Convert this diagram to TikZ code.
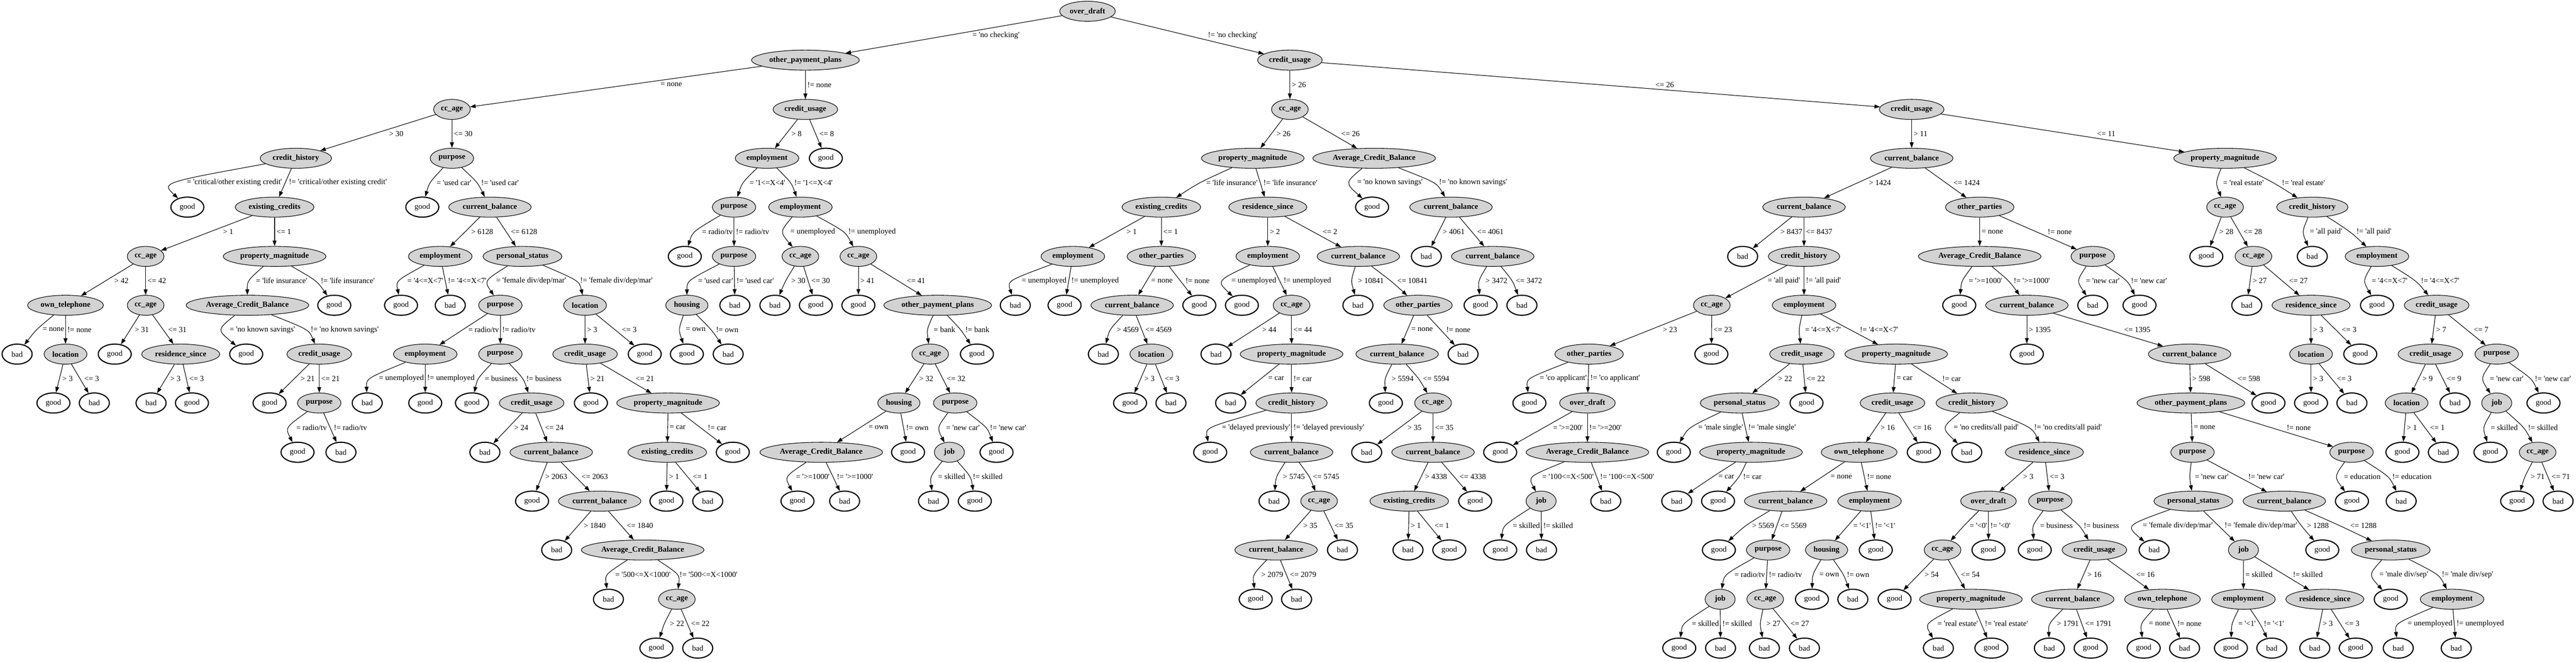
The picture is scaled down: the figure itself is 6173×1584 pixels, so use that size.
\documentclass[tikz,border=0pt]{standalone}
\usepackage{fontspec}
\setmainfont{Liberation Serif}[Ligatures=TeXOff]
\usetikzlibrary{shapes.geometric,arrows.meta}
\definecolor{nodegray}{HTML}{D3D3D3}
\newcommand{\lblfont}{\fontsize{14}{16}\selectfont}
\newlength{\lblw}
\newcommand{\branches}[6][-1]{%
\path (#2); \pgfgetlastxy{\pxa}{\pya}%
\path (#3); \pgfgetlastxy{\pxb}{\pyb}%
\path (#4); \pgfgetlastxy{\pxc}{\pyc}%
\pgfinterruptpicture\settowidth{\lblw}{\normalfont\lblfont #5}\global\lblw=\lblw\endpgfinterruptpicture
\pgfmathsetmacro{\bym}{(\pya+\pyb)/2}%
\pgfmathsetmacro{\bsl}{abs(\pxb-\pxa)/abs(\pyb-\pya)}%
\pgfmathsetmacro{\bsr}{abs(\pxc-\pxa)/abs(\pyc-\pya)}%
\pgfmathsetmacro{\bml}{(\pxa+\pxb)/2}%
\pgfmathsetmacro{\bmr}{(\pxa+\pxc)/2}%
\pgfmathsetmacro{\bxl}{\bml+min(7.5*\bsl,140)+2}%
\pgfmathsetmacro{\bdef}{max(\bxl-(\bmr-7.5*\bsr-\lblw-4),0)}%
\pgfmathsetmacro{\bfr}{#1<0 ? (\bsr>=0.5 ? 0.5 : 0) : #1}%
\pgfmathsetmacro{\bqr}{\bmr+\bfr*\bdef}%
\pgfmathsetmacro{\bmax}{\bqr-7.5*\bsr-\lblw-4}%
\pgfmathsetmacro{\bll}{min(\bxl,\bmax)}%
\pgfmathsetmacro{\blr}{\bqr+min(7.5*\bsr,140)+2}%
\pgfmathsetmacro{\bqx}{min(\bml,\bmax-8)}%
\pgfmathsetmacro{\bcx}{\bqx+((\bqx-\pxa)+(\bqx-\pxb))/6}%
\pgfmathsetmacro{\bcr}{\bqr+((\bqr-\pxa)+(\bqr-\pxc))/6}%
\pgfmathsetmacro{\bcy}{\bym+((\bym-\pya)+(\bym-\pyb))/6}%
\draw[arr] (#2) .. controls (\bcx pt,\bcy pt) .. (#3) node[lbl, at={(\bll pt,\bym pt)}] {#5};%
\draw[arr] (#2) .. controls (\bcr pt,\bcy pt) .. (#4) node[lbl, at={(\blr pt,\bym pt)}] {#6};%
}
\begin{document}
\begin{tikzpicture}[x=0.75pt, y=-0.75pt,
split/.style={ellipse, draw, line width=1pt, fill=nodegray, font=\lblfont\bfseries, inner xsep=3.5pt, inner ysep=0pt, minimum height=36pt, minimum width=54pt},
leaf/.style={ellipse, draw, line width=2pt, font=\lblfont, inner xsep=7pt, inner ysep=0pt, minimum height=36pt, minimum width=54pt},
arr/.style={line width=1pt, -{Triangle[length=10pt,width=7pt]}},
lbl/.style={anchor=west, inner sep=1pt, font=\lblfont}]
\useasboundingbox (0, 0) rectangle (6173, 1584);
\node[split] (n0) at(2606, 27) {over\_draft};
\node[split] (n1) at(1930, 144) {other\_payment\_plans};
\node[split] (n2) at(3091, 144) {credit\_usage};
\node[split] (n3) at(1083, 262) {cc\_age};
\node[split] (n4) at(1930, 262) {credit\_usage};
\node[split] (n5) at(709, 379) {credit\_history};
\node[split] (n6) at(1083, 379) {purpose};
\node[leaf] (n7) at(449, 496) {good};
\node[split] (n8) at(658, 496) {existing\_credits};
\node[split] (n9) at(349, 614) {cc\_age};
\node[split] (n10) at(658, 614) {property\_magnitude};
\node[split] (n11) at(157, 731) {own\_telephone};
\node[split] (n12) at(349, 731) {cc\_age};
\node[leaf] (n13) at(41, 848) {bad};
\node[split] (n14) at(157, 848) {location};
\node[leaf] (n15) at(128, 965) {good};
\node[leaf] (n16) at(226, 965) {bad};
\node[leaf] (n17) at(275, 848) {good};
\node[split] (n18) at(433, 848) {residence\_since};
\node[leaf] (n19) at(362, 965) {bad};
\node[leaf] (n20) at(460, 965) {good};
\node[split] (n21) at(593, 731) {Average\_Credit\_Balance};
\node[leaf] (n22) at(801, 731) {good};
\node[leaf] (n23) at(590, 848) {good};
\node[split] (n24) at(765, 848) {credit\_usage};
\node[leaf] (n25) at(646, 965) {good};
\node[split] (n26) at(765, 965) {purpose};
\node[leaf] (n27) at(713, 1083) {good};
\node[leaf] (n28) at(817, 1083) {bad};
\node[leaf] (n29) at(1012, 496) {good};
\node[split] (n30) at(1174, 496) {current\_balance};
\node[split] (n31) at(1055, 614) {employment};
\node[split] (n32) at(1252, 614) {personal\_status};
\node[leaf] (n33) at(961, 731) {good};
\node[leaf] (n34) at(1079, 731) {bad};
\node[split] (n35) at(1199, 731) {purpose};
\node[split] (n36) at(1402, 731) {location};
\node[split] (n37) at(1019, 848) {employment};
\node[split] (n38) at(1199, 848) {purpose};
\node[leaf] (n39) at(880, 965) {bad};
\node[leaf] (n40) at(1019, 965) {good};
\node[leaf] (n41) at(1131, 965) {good};
\node[split] (n42) at(1274, 965) {credit\_usage};
\node[leaf] (n43) at(1162, 1083) {bad};
\node[split] (n44) at(1321, 1083) {current\_balance};
\node[leaf] (n45) at(1275, 1200) {good};
\node[split] (n46) at(1437, 1200) {current\_balance};
\node[leaf] (n47) at(1334, 1317) {bad};
\node[split] (n48) at(1540, 1317) {Average\_Credit\_Balance};
\node[leaf] (n49) at(1458, 1435) {bad};
\node[split] (n50) at(1622, 1435) {cc\_age};
\node[leaf] (n51) at(1573, 1552) {good};
\node[leaf] (n52) at(1672, 1552) {bad};
\node[split] (n53) at(1402, 848) {credit\_usage};
\node[leaf] (n54) at(1545, 848) {good};
\node[leaf] (n55) at(1416, 965) {good};
\node[split] (n56) at(1601, 965) {property\_magnitude};
\node[split] (n57) at(1599, 1083) {existing\_credits};
\node[leaf] (n58) at(1756, 1083) {good};
\node[leaf] (n59) at(1597, 1200) {good};
\node[leaf] (n60) at(1696, 1200) {bad};
\node[split] (n61) at(1838, 379) {employment};
\node[leaf] (n62) at(1979, 379) {good};
\node[split] (n63) at(1759, 496) {purpose};
\node[split] (n64) at(1918, 496) {employment};
\node[leaf] (n65) at(1641, 614) {good};
\node[split] (n66) at(1759, 614) {purpose};
\node[split] (n67) at(1646, 731) {housing};
\node[leaf] (n68) at(1761, 731) {bad};
\node[leaf] (n69) at(1646, 848) {good};
\node[leaf] (n70) at(1745, 848) {bad};
\node[split] (n71) at(1918, 614) {cc\_age};
\node[split] (n72) at(2057, 614) {cc\_age};
\node[leaf] (n73) at(1857, 731) {bad};
\node[leaf] (n74) at(1955, 731) {good};
\node[leaf] (n75) at(2057, 731) {good};
\node[split] (n76) at(2247, 731) {other\_payment\_plans};
\node[split] (n77) at(2229, 848) {cc\_age};
\node[leaf] (n78) at(2341, 848) {good};
\node[split] (n79) at(2154, 965) {housing};
\node[split] (n80) at(2289, 965) {purpose};
\node[split] (n81) at(1968, 1083) {Average\_Credit\_Balance};
\node[leaf] (n82) at(2176, 1083) {good};
\node[leaf] (n83) at(1911, 1200) {good};
\node[leaf] (n84) at(2024, 1200) {bad};
\node[split] (n85) at(2275, 1083) {job};
\node[leaf] (n86) at(2388, 1083) {good};
\node[leaf] (n87) at(2237, 1200) {bad};
\node[leaf] (n88) at(2336, 1200) {good};
\node[split] (n89) at(3091, 262) {cc\_age};
\node[split] (n90) at(4581, 262) {credit\_usage};
\node[split] (n91) at(3002, 379) {property\_magnitude};
\node[split] (n92) at(3293, 379) {Average\_Credit\_Balance};
\node[split] (n93) at(2783, 496) {existing\_credits};
\node[split] (n94) at(3038, 496) {residence\_since};
\node[split] (n95) at(2571, 614) {employment};
\node[split] (n96) at(2783, 614) {other\_parties};
\node[leaf] (n97) at(2433, 731) {bad};
\node[leaf] (n98) at(2551, 731) {good};
\node[split] (n99) at(2713, 731) {current\_balance};
\node[leaf] (n100) at(2874, 731) {good};
\node[leaf] (n101) at(2644, 848) {bad};
\node[split] (n102) at(2759, 848) {location};
\node[leaf] (n103) at(2708, 965) {good};
\node[leaf] (n104) at(2806, 965) {bad};
\node[split] (n105) at(3038, 614) {employment};
\node[split] (n106) at(3255, 614) {current\_balance};
\node[leaf] (n107) at(2976, 731) {good};
\node[split] (n108) at(3095, 731) {cc\_age};
\node[leaf] (n109) at(2914, 848) {bad};
\node[split] (n110) at(3095, 848) {property\_magnitude};
\node[leaf] (n111) at(2949, 965) {bad};
\node[split] (n112) at(3095, 965) {credit\_history};
\node[leaf] (n113) at(2900, 1083) {good};
\node[split] (n114) at(3095, 1083) {current\_balance};
\node[leaf] (n115) at(3053, 1200) {bad};
\node[split] (n116) at(3161, 1200) {cc\_age};
\node[split] (n117) at(3058, 1317) {current\_balance};
\node[leaf] (n118) at(3217, 1317) {bad};
\node[leaf] (n119) at(3009, 1435) {good};
\node[leaf] (n120) at(3107, 1435) {bad};
\node[leaf] (n121) at(3254, 731) {bad};
\node[split] (n122) at(3398, 731) {other\_parties};
\node[split] (n123) at(3348, 848) {current\_balance};
\node[leaf] (n124) at(3506, 848) {bad};
\node[leaf] (n125) at(3321, 965) {good};
\node[split] (n126) at(3434, 965) {cc\_age};
\node[leaf] (n127) at(3275, 1083) {bad};
\node[split] (n128) at(3434, 1083) {current\_balance};
\node[split] (n129) at(3377, 1200) {existing\_credits};
\node[leaf] (n130) at(3535, 1200) {good};
\node[leaf] (n131) at(3374, 1317) {bad};
\node[leaf] (n132) at(3473, 1317) {good};
\node[leaf] (n133) at(3288, 496) {good};
\node[split] (n134) at(3477, 496) {current\_balance};
\node[leaf] (n135) at(3418, 614) {bad};
\node[split] (n136) at(3577, 614) {current\_balance};
\node[leaf] (n137) at(3548, 731) {good};
\node[leaf] (n138) at(3647, 731) {bad};
\node[split] (n139) at(4581, 379) {current\_balance};
\node[split] (n140) at(5332, 379) {property\_magnitude};
\node[split] (n141) at(4323, 496) {current\_balance};
\node[split] (n142) at(4744, 496) {other\_parties};
\node[leaf] (n143) at(4176, 614) {bad};
\node[split] (n144) at(4323, 614) {credit\_history};
\node[split] (n145) at(4102, 731) {cc\_age};
\node[split] (n146) at(4323, 731) {employment};
\node[split] (n147) at(3808, 848) {other\_parties};
\node[leaf] (n148) at(4101, 848) {good};
\node[leaf] (n149) at(3665, 965) {good};
\node[split] (n150) at(3804, 965) {over\_draft};
\node[leaf] (n151) at(3595, 1083) {good};
\node[split] (n152) at(3804, 1083) {Average\_Credit\_Balance};
\node[split] (n153) at(3693, 1200) {job};
\node[leaf] (n154) at(3848, 1200) {bad};
\node[leaf] (n155) at(3595, 1317) {good};
\node[leaf] (n156) at(3694, 1317) {bad};
\node[split] (n157) at(4318, 848) {credit\_usage};
\node[split] (n158) at(4544, 848) {property\_magnitude};
\node[split] (n159) at(4169, 965) {personal\_status};
\node[leaf] (n160) at(4329, 965) {good};
\node[leaf] (n161) at(4011, 1083) {good};
\node[split] (n162) at(4196, 1083) {property\_magnitude};
\node[leaf] (n163) at(4018, 1200) {bad};
\node[leaf] (n164) at(4117, 1200) {good};
\node[split] (n165) at(4535, 965) {credit\_usage};
\node[split] (n166) at(4725, 965) {credit\_history};
\node[split] (n167) at(4455, 1083) {own\_telephone};
\node[leaf] (n168) at(4610, 1083) {good};
\node[split] (n169) at(4279, 1200) {current\_balance};
\node[split] (n170) at(4480, 1200) {employment};
\node[leaf] (n171) at(4119, 1317) {good};
\node[split] (n172) at(4237, 1317) {purpose};
\node[split] (n173) at(4122, 1435) {job};
\node[split] (n174) at(4230, 1435) {cc\_age};
\node[leaf] (n175) at(4024, 1552) {good};
\node[leaf] (n176) at(4123, 1552) {bad};
\node[leaf] (n177) at(4228, 1552) {bad};
\node[leaf] (n178) at(4324, 1552) {bad};
\node[split] (n179) at(4377, 1317) {housing};
\node[leaf] (n180) at(4495, 1317) {good};
\node[leaf] (n181) at(4342, 1435) {good};
\node[leaf] (n182) at(4440, 1435) {bad};
\node[leaf] (n183) at(4713, 1083) {bad};
\node[split] (n184) at(4899, 1083) {residence\_since};
\node[split] (n185) at(4765, 1200) {over\_draft};
\node[split] (n186) at(4913, 1200) {purpose};
\node[split] (n187) at(4655, 1317) {cc\_age};
\node[leaf] (n188) at(4765, 1317) {good};
\node[leaf] (n189) at(4540, 1435) {good};
\node[split] (n190) at(4723, 1435) {property\_magnitude};
\node[leaf] (n191) at(4645, 1552) {bad};
\node[leaf] (n192) at(4772, 1552) {good};
\node[leaf] (n193) at(4876, 1317) {good};
\node[split] (n194) at(5019, 1317) {credit\_usage};
\node[split] (n195) at(4967, 1435) {current\_balance};
\node[split] (n196) at(5182, 1435) {own\_telephone};
\node[leaf] (n197) at(4911, 1552) {bad};
\node[leaf] (n198) at(5010, 1552) {good};
\node[leaf] (n199) at(5137, 1552) {good};
\node[leaf] (n200) at(5235, 1552) {bad};
\node[split] (n201) at(4744, 614) {Average\_Credit\_Balance};
\node[split] (n202) at(5015, 614) {purpose};
\node[leaf] (n203) at(4695, 731) {good};
\node[split] (n204) at(4857, 731) {current\_balance};
\node[leaf] (n205) at(4857, 848) {good};
\node[split] (n206) at(5247, 848) {current\_balance};
\node[split] (n207) at(5250, 965) {other\_payment\_plans};
\node[leaf] (n208) at(5436, 965) {good};
\node[split] (n209) at(5254, 1083) {purpose};
\node[split] (n210) at(5635, 1083) {purpose};
\node[split] (n211) at(5256, 1200) {personal\_status};
\node[split] (n212) at(5474, 1200) {current\_balance};
\node[leaf] (n213) at(5162, 1317) {bad};
\node[split] (n214) at(5376, 1317) {job};
\node[split] (n215) at(5376, 1435) {employment};
\node[split] (n216) at(5571, 1435) {residence\_since};
\node[leaf] (n217) at(5346, 1552) {good};
\node[leaf] (n218) at(5444, 1552) {bad};
\node[leaf] (n219) at(5547, 1552) {bad};
\node[leaf] (n220) at(5645, 1552) {good};
\node[leaf] (n221) at(5565, 1317) {good};
\node[split] (n222) at(5729, 1317) {personal\_status};
\node[leaf] (n223) at(5729, 1435) {good};
\node[split] (n224) at(5876, 1435) {employment};
\node[leaf] (n225) at(5747, 1552) {bad};
\node[leaf] (n226) at(5886, 1552) {bad};
\node[leaf] (n227) at(5636, 1200) {good};
\node[leaf] (n228) at(5754, 1200) {bad};
\node[leaf] (n229) at(5015, 731) {bad};
\node[leaf] (n230) at(5127, 731) {good};
\node[split] (n231) at(5332, 496) {cc\_age};
\node[split] (n232) at(5541, 496) {credit\_history};
\node[leaf] (n233) at(5287, 614) {good};
\node[split] (n234) at(5400, 614) {cc\_age};
\node[leaf] (n235) at(5384, 731) {bad};
\node[split] (n236) at(5538, 731) {residence\_since};
\node[split] (n237) at(5538, 848) {location};
\node[leaf] (n238) at(5656, 848) {good};
\node[leaf] (n239) at(5538, 965) {good};
\node[leaf] (n240) at(5636, 965) {bad};
\node[leaf] (n241) at(5541, 614) {bad};
\node[split] (n242) at(5696, 614) {employment};
\node[leaf] (n243) at(5696, 731) {good};
\node[split] (n244) at(5839, 731) {credit\_usage};
\node[split] (n245) at(5824, 848) {credit\_usage};
\node[split] (n246) at(5983, 848) {purpose};
\node[split] (n247) at(5767, 965) {location};
\node[leaf] (n248) at(5883, 965) {bad};
\node[leaf] (n249) at(5757, 1083) {good};
\node[leaf] (n250) at(5855, 1083) {bad};
\node[split] (n251) at(5983, 965) {job};
\node[leaf] (n252) at(6095, 965) {good};
\node[leaf] (n253) at(5968, 1083) {good};
\node[split] (n254) at(6081, 1083) {cc\_age};
\node[leaf] (n255) at(6032, 1200) {good};
\node[leaf] (n256) at(6130, 1200) {bad};
\branches{n0}{n1}{n2}{= 'no checking'}{!= 'no checking'}
\branches{n1}{n3}{n4}{= none}{!= none}
\branches{n3}{n5}{n6}{> 30}{<= 30}
\branches[0]{n5}{n7}{n8}{= 'critical/other existing credit'}{!= 'critical/other existing credit'}
\branches{n8}{n9}{n10}{> 1}{<= 1}
\branches{n9}{n11}{n12}{> 42}{<= 42}
\branches{n11}{n13}{n14}{= none}{!= none}
\branches{n14}{n15}{n16}{> 3}{<= 3}
\branches{n12}{n17}{n18}{> 31}{<= 31}
\branches{n18}{n19}{n20}{> 3}{<= 3}
\branches{n10}{n21}{n22}{= 'life insurance'}{!= 'life insurance'}
\branches{n21}{n23}{n24}{= 'no known savings'}{!= 'no known savings'}
\branches{n24}{n25}{n26}{> 21}{<= 21}
\branches{n26}{n27}{n28}{= radio/tv}{!= radio/tv}
\branches{n6}{n29}{n30}{= 'used car'}{!= 'used car'}
\branches{n30}{n31}{n32}{> 6128}{<= 6128}
\branches{n31}{n33}{n34}{= '4<=X<7'}{!= '4<=X<7'}
\branches{n32}{n35}{n36}{= 'female div/dep/mar'}{!= 'female div/dep/mar'}
\branches{n35}{n37}{n38}{= radio/tv}{!= radio/tv}
\branches{n37}{n39}{n40}{= unemployed}{!= unemployed}
\branches{n38}{n41}{n42}{= business}{!= business}
\branches{n42}{n43}{n44}{> 24}{<= 24}
\branches{n44}{n45}{n46}{> 2063}{<= 2063}
\branches{n46}{n47}{n48}{> 1840}{<= 1840}
\branches{n48}{n49}{n50}{= '500<=X<1000'}{!= '500<=X<1000'}
\branches{n50}{n51}{n52}{> 22}{<= 22}
\branches{n36}{n53}{n54}{> 3}{<= 3}
\branches{n53}{n55}{n56}{> 21}{<= 21}
\branches{n56}{n57}{n58}{= car}{!= car}
\branches{n57}{n59}{n60}{> 1}{<= 1}
\branches{n4}{n61}{n62}{> 8}{<= 8}
\branches{n61}{n63}{n64}{= '1<=X<4'}{!= '1<=X<4'}
\branches{n63}{n65}{n66}{= radio/tv}{!= radio/tv}
\branches{n66}{n67}{n68}{= 'used car'}{!= 'used car'}
\branches{n67}{n69}{n70}{= own}{!= own}
\branches{n64}{n71}{n72}{= unemployed}{!= unemployed}
\branches{n71}{n73}{n74}{> 30}{<= 30}
\branches{n72}{n75}{n76}{> 41}{<= 41}
\branches{n76}{n77}{n78}{= bank}{!= bank}
\branches{n77}{n79}{n80}{> 32}{<= 32}
\branches{n79}{n81}{n82}{= own}{!= own}
\branches{n81}{n83}{n84}{= '>=1000'}{!= '>=1000'}
\branches{n80}{n85}{n86}{= 'new car'}{!= 'new car'}
\branches{n85}{n87}{n88}{= skilled}{!= skilled}
\branches{n2}{n89}{n90}{> 26}{<= 26}
\branches{n89}{n91}{n92}{> 26}{<= 26}
\branches{n91}{n93}{n94}{= 'life insurance'}{!= 'life insurance'}
\branches{n93}{n95}{n96}{> 1}{<= 1}
\branches{n95}{n97}{n98}{= unemployed}{!= unemployed}
\branches{n96}{n99}{n100}{= none}{!= none}
\branches{n99}{n101}{n102}{> 4569}{<= 4569}
\branches{n102}{n103}{n104}{> 3}{<= 3}
\branches{n94}{n105}{n106}{> 2}{<= 2}
\branches{n105}{n107}{n108}{= unemployed}{!= unemployed}
\branches{n108}{n109}{n110}{> 44}{<= 44}
\branches{n110}{n111}{n112}{= car}{!= car}
\branches{n112}{n113}{n114}{= 'delayed previously'}{!= 'delayed previously'}
\branches{n114}{n115}{n116}{> 5745}{<= 5745}
\branches{n116}{n117}{n118}{> 35}{<= 35}
\branches{n117}{n119}{n120}{> 2079}{<= 2079}
\branches{n106}{n121}{n122}{> 10841}{<= 10841}
\branches{n122}{n123}{n124}{= none}{!= none}
\branches{n123}{n125}{n126}{> 5594}{<= 5594}
\branches{n126}{n127}{n128}{> 35}{<= 35}
\branches{n128}{n129}{n130}{> 4338}{<= 4338}
\branches{n129}{n131}{n132}{> 1}{<= 1}
\branches{n92}{n133}{n134}{= 'no known savings'}{!= 'no known savings'}
\branches{n134}{n135}{n136}{> 4061}{<= 4061}
\branches{n136}{n137}{n138}{> 3472}{<= 3472}
\branches{n90}{n139}{n140}{> 11}{<= 11}
\branches{n139}{n141}{n142}{> 1424}{<= 1424}
\branches{n141}{n143}{n144}{> 8437}{<= 8437}
\branches{n144}{n145}{n146}{= 'all paid'}{!= 'all paid'}
\branches{n145}{n147}{n148}{> 23}{<= 23}
\branches{n147}{n149}{n150}{= 'co applicant'}{!= 'co applicant'}
\branches{n150}{n151}{n152}{= '>=200'}{!= '>=200'}
\branches{n152}{n153}{n154}{= '100<=X<500'}{!= '100<=X<500'}
\branches{n153}{n155}{n156}{= skilled}{!= skilled}
\branches{n146}{n157}{n158}{= '4<=X<7'}{!= '4<=X<7'}
\branches{n157}{n159}{n160}{> 22}{<= 22}
\branches{n159}{n161}{n162}{= 'male single'}{!= 'male single'}
\branches{n162}{n163}{n164}{= car}{!= car}
\branches{n158}{n165}{n166}{= car}{!= car}
\branches{n165}{n167}{n168}{> 16}{<= 16}
\branches{n167}{n169}{n170}{= none}{!= none}
\branches{n169}{n171}{n172}{> 5569}{<= 5569}
\branches{n172}{n173}{n174}{= radio/tv}{!= radio/tv}
\branches{n173}{n175}{n176}{= skilled}{!= skilled}
\branches{n174}{n177}{n178}{> 27}{<= 27}
\branches{n170}{n179}{n180}{= '<1'}{!= '<1'}
\branches{n179}{n181}{n182}{= own}{!= own}
\branches{n166}{n183}{n184}{= 'no credits/all paid'}{!= 'no credits/all paid'}
\branches{n184}{n185}{n186}{> 3}{<= 3}
\branches{n185}{n187}{n188}{= '<0'}{!= '<0'}
\branches{n187}{n189}{n190}{> 54}{<= 54}
\branches{n190}{n191}{n192}{= 'real estate'}{!= 'real estate'}
\branches{n186}{n193}{n194}{= business}{!= business}
\branches{n194}{n195}{n196}{> 16}{<= 16}
\branches{n195}{n197}{n198}{> 1791}{<= 1791}
\branches{n196}{n199}{n200}{= none}{!= none}
\branches{n142}{n201}{n202}{= none}{!= none}
\branches{n201}{n203}{n204}{= '>=1000'}{!= '>=1000'}
\branches{n204}{n205}{n206}{> 1395}{<= 1395}
\branches{n206}{n207}{n208}{> 598}{<= 598}
\branches{n207}{n209}{n210}{= none}{!= none}
\branches{n209}{n211}{n212}{= 'new car'}{!= 'new car'}
\branches[0]{n211}{n213}{n214}{= 'female div/dep/mar'}{!= 'female div/dep/mar'}
\branches{n214}{n215}{n216}{= skilled}{!= skilled}
\branches{n215}{n217}{n218}{= '<1'}{!= '<1'}
\branches{n216}{n219}{n220}{> 3}{<= 3}
\branches{n212}{n221}{n222}{> 1288}{<= 1288}
\branches{n222}{n223}{n224}{= 'male div/sep'}{!= 'male div/sep'}
\branches{n224}{n225}{n226}{= unemployed}{!= unemployed}
\branches{n210}{n227}{n228}{= education}{!= education}
\branches{n202}{n229}{n230}{= 'new car'}{!= 'new car'}
\branches{n140}{n231}{n232}{= 'real estate'}{!= 'real estate'}
\branches{n231}{n233}{n234}{> 28}{<= 28}
\branches{n234}{n235}{n236}{> 27}{<= 27}
\branches{n236}{n237}{n238}{> 3}{<= 3}
\branches{n237}{n239}{n240}{> 3}{<= 3}
\branches{n232}{n241}{n242}{= 'all paid'}{!= 'all paid'}
\branches{n242}{n243}{n244}{= '4<=X<7'}{!= '4<=X<7'}
\branches{n244}{n245}{n246}{> 7}{<= 7}
\branches{n245}{n247}{n248}{> 9}{<= 9}
\branches{n247}{n249}{n250}{> 1}{<= 1}
\branches{n246}{n251}{n252}{= 'new car'}{!= 'new car'}
\branches{n251}{n253}{n254}{= skilled}{!= skilled}
\branches{n254}{n255}{n256}{> 71}{<= 71}
\end{tikzpicture}
\end{document}
